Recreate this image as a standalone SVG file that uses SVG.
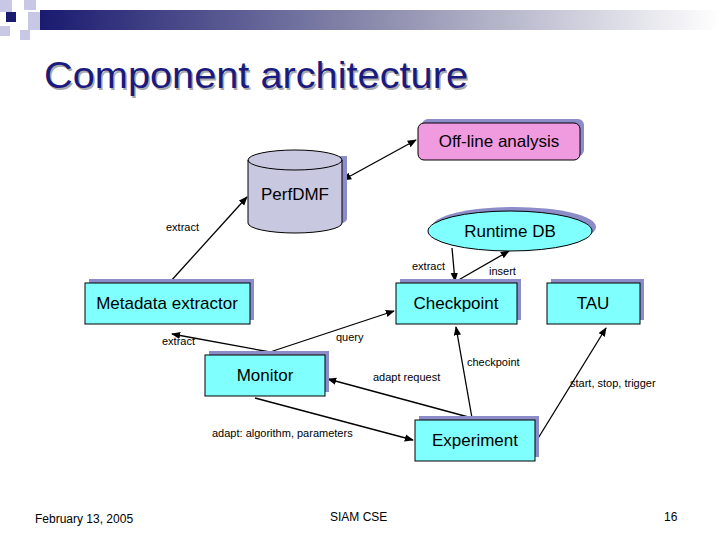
<svg xmlns="http://www.w3.org/2000/svg" width="720" height="540" viewBox="0 0 720 540">
<defs>
<linearGradient id="bar" x1="0" x2="1" y1="0" y2="0"><stop offset="0" stop-color="#1a1a70"/><stop offset="0.5" stop-color="#8d8dae"/><stop offset="1" stop-color="#ffffff"/></linearGradient>
<marker id="ah" viewBox="0 0 10 10" refX="9" refY="5" markerWidth="7" markerHeight="7" orient="auto-start-reverse"><path d="M0,1 L10,5 L0,9 z" fill="#000"/></marker>
<style>
text{font-family:"Liberation Sans",Arial,sans-serif}
.sh{fill:#8c8cc8}
.bx{fill:#80ffff;stroke:#000;stroke-width:1}
.nl{font-size:17px;text-anchor:middle}
.cl{font-size:11px}
.cn line{stroke:#000;stroke-width:1.3;marker-end:url(#ah)}
.ft{font-size:12px}
</style>
</defs>
<rect width="720" height="540" fill="#fff"/>
<g id="header">
<rect x="40" y="10" width="680" height="20" fill="url(#bar)"/>
<rect x="0" y="0" width="12" height="12" fill="#c8c8e6"/>
<rect x="24" y="0" width="12" height="10" fill="#c8c8e6"/>
<rect x="6" y="12" width="10" height="10" fill="#1a1a70"/>
<rect x="28" y="12" width="12" height="18" fill="#c8c8e6"/>
<rect x="0" y="26" width="10" height="10" fill="#c8c8e6"/>
<rect x="20" y="30" width="10" height="10" fill="#c8c8e6"/>
</g>
<g id="title" font-size="37">
<text x="45.5" y="89.5" fill="#aaaaaa" textLength="424" lengthAdjust="spacingAndGlyphs">Component architecture</text>
<text x="44" y="88" fill="#1a1a80" textLength="424" lengthAdjust="spacingAndGlyphs">Component architecture</text>
</g>
<g class="cn" id="connectors">
<line x1="343" y1="180" x2="416" y2="140" marker-start="url(#ah)"/>
<line x1="170" y1="282" x2="247" y2="197"/>
<line x1="452" y1="248" x2="455" y2="281"/>
<line x1="455" y1="282" x2="509" y2="251"/>
<line x1="270" y1="352" x2="172" y2="334"/>
<line x1="270" y1="352" x2="394" y2="311"/>
<line x1="472" y1="418" x2="456" y2="327"/>
<line x1="472" y1="418" x2="328" y2="379"/>
<line x1="255" y1="398" x2="413" y2="440"/>
<line x1="537" y1="440" x2="606" y2="328"/>
</g>
<g id="offline">
<rect x="422" y="119" width="162" height="37" rx="6" class="sh"/>
<rect x="418" y="123" width="162" height="37" rx="6" fill="#f09ae0" stroke="#000"/>
<text x="499" y="147" class="nl" font-size="16">Off-line analysis</text>
</g>
<g id="perfdmf">
<path d="M253,156 v63 a47,10 0 0 0 94,0 v-63 z" class="sh"/>
<path d="M248,160 v63 a47,10 0 0 0 94,0 v-63 a47,10 0 0 0 -94,0 z" fill="#c8c8e0" stroke="#000"/>
<path d="M248,160 a47,10 0 0 0 94,0" fill="none" stroke="#000"/>
<text x="295" y="200" class="nl" font-size="16">PerfDMF</text>
</g>
<g id="runtimedb">
<ellipse cx="514" cy="227" rx="82" ry="20" class="sh"/>
<ellipse cx="510" cy="231" rx="82" ry="20" fill="#80ffff" stroke="#000"/>
<text x="510" y="237" class="nl" font-size="16">Runtime DB</text>
</g>
<g id="metadata">
<rect x="89" y="279" width="165" height="41" class="sh"/>
<rect x="85" y="283" width="165" height="41" class="bx"/>
<text x="167" y="309" class="nl">Metadata extractor</text>
</g>
<g id="checkpoint">
<rect x="400" y="279" width="121" height="41" class="sh"/>
<rect x="396" y="283" width="121" height="41" class="bx"/>
<text x="456" y="309" class="nl">Checkpoint</text>
</g>
<g id="tau">
<rect x="551" y="279" width="93" height="41" class="sh"/>
<rect x="547" y="283" width="93" height="41" class="bx"/>
<text x="593" y="309" class="nl">TAU</text>
</g>
<g id="monitor">
<rect x="209" y="351" width="120" height="41" class="sh"/>
<rect x="205" y="355" width="120" height="41" class="bx"/>
<text x="265" y="381" class="nl">Monitor</text>
</g>
<g id="experiment">
<rect x="419" y="416" width="120" height="41" class="sh"/>
<rect x="415" y="420" width="120" height="41" class="bx"/>
<text x="475" y="446" class="nl">Experiment</text>
</g>
<g id="labels" class="cl">
<text x="166" y="231">extract</text>
<text x="412" y="270">extract</text>
<text x="489" y="275">insert</text>
<text x="162" y="345">extract</text>
<text x="336" y="341">query</text>
<text x="467" y="366">checkpoint</text>
<text x="373" y="381">adapt request</text>
<text x="570" y="387">start, stop, trigger</text>
<text x="212" y="437">adapt: algorithm, parameters</text>
</g>
<g id="footer" class="ft">
<text x="35" y="523">February 13, 2005</text>
<text x="330" y="521">SIAM CSE</text>
<text x="664" y="521">16</text>
</g>
</svg>
